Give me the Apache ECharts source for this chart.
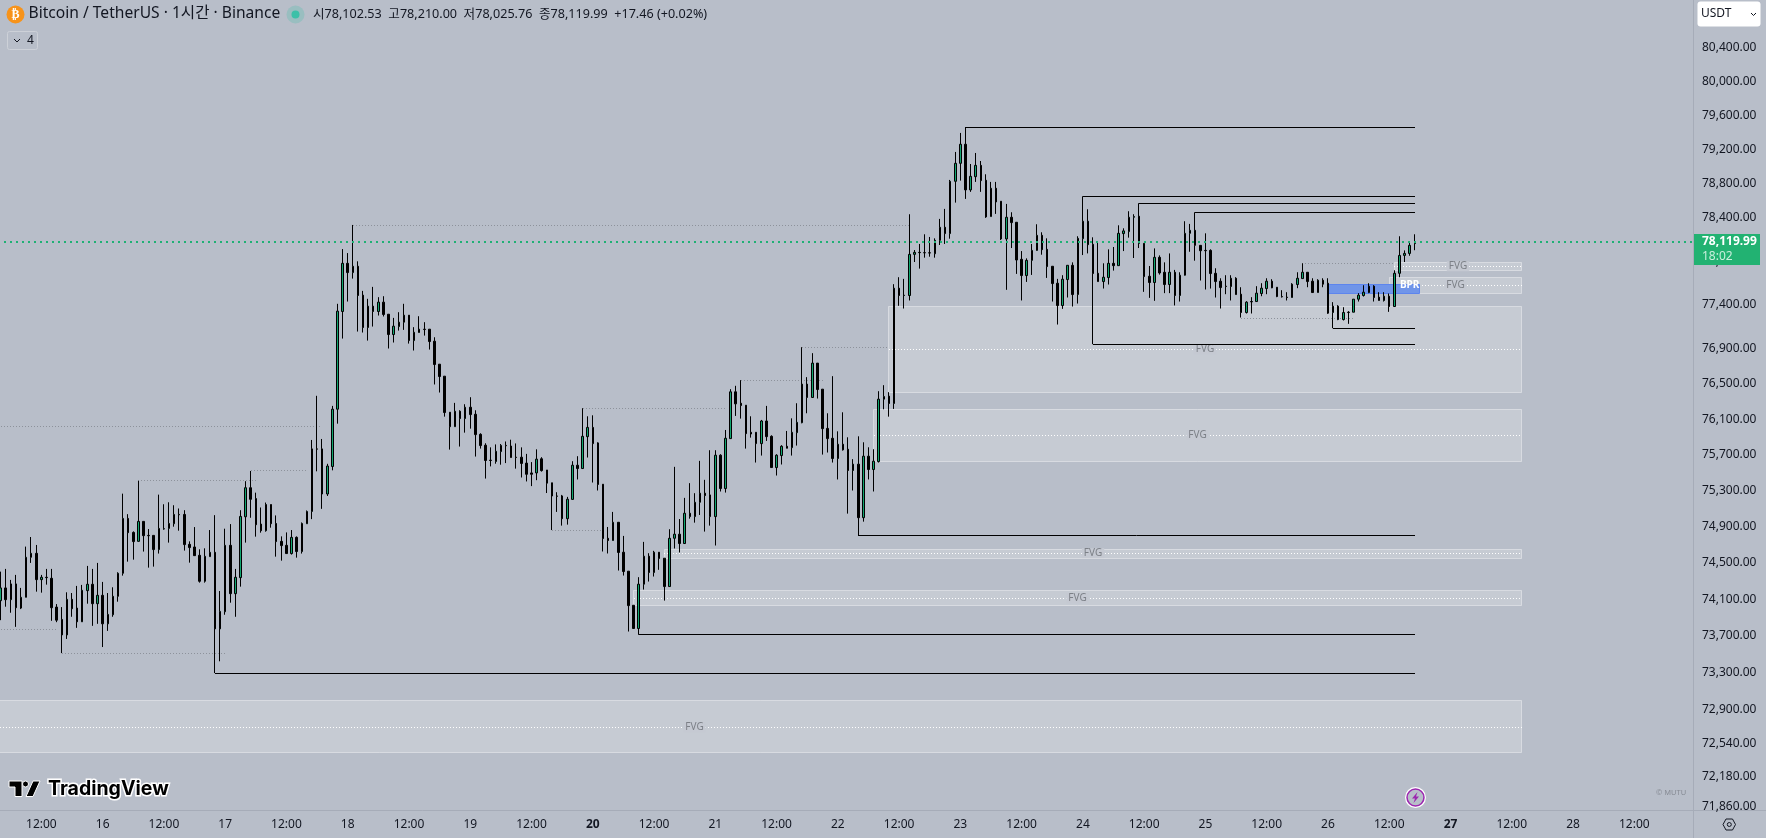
<!DOCTYPE html>
<html>
<head>
<meta charset="utf-8">
<title>BTCUSDT 1H</title>
<script src="https://cdn.jsdelivr.net/npm/echarts@6/dist/echarts.min.js"></script>
<style>
    html, body { margin: 0; padding: 0; background: #b8bec9; }
    #main { width: 1766px; height: 838px; }
</style>
</head>
<body>
<div id="main"></div>
<script>
// 1시간봉: 15일 04:00 부터 278개, [open, close, low, high]
const ohlc = [
[74085,74225,73872,74404],[74225,74096,74019,74434],[74096,74269,73953,74313],[74269,74008,73799,74368],[74004,74122,73993,74225],
[74122,74562,74122,74680],[74562,74606,74500,74786],[74606,74316,74184,74698],[74316,74342,74173,74368],[74342,74338,74261,74434],
[74331,74008,73865,74434],[74015,73872,73850,74048],[73880,73711,73513,74015],[73711,74100,73667,74177],[74100,73997,73909,74169],
[74004,73854,73788,74247],[73854,74199,73854,74258],[74195,74265,74052,74467],[74265,74052,73810,74434],[74052,74144,73832,74500],
[74144,73832,73579,74291],[73832,73935,73755,74169],[73931,74133,73909,74232],[74133,74386,74074,74397],[74386,74992,74360,75267],
[74992,74834,74514,75039],[74837,74735,74536,74848],[74738,74959,74735,75410],[74959,74801,74625,74959],[74804,74800,74448,74874],
[74804,74647,74459,74804],[74647,74881,74603,75256],[74875,74878,74867,75149],[74881,74936,74724,75171],[74933,75036,74900,75138],
[75036,75032,74856,75102],[75036,74702,74636,75083],[74705,74669,74503,74738],[74676,74580,74580,74896],[74584,74298,74283,74650],
[74298,74573,74283,74661],[74569,74617,74569,74863],[74617,73777,73296,75028],[73777,73968,73424,74191],[73964,74694,73931,74878],
[74694,74162,74063,74929],[74162,74342,73909,74434],[74338,75014,74239,75083],[75010,75333,74724,75406],[75333,75204,74999,75520],
[75212,74922,74790,75278],[74929,74856,74834,75113],[74856,75146,74845,75168],[75146,74933,74889,75146],[74936,74735,74569,75025],
[74738,74691,74525,74793],[74694,74603,74603,74837],[74603,74782,74592,74863],[74782,74625,74558,74793],[74625,74936,74603,74947],
[74933,75069,74933,75080],[75069,75767,74984,75867],[75767,75764,75516,76364],[75767,75263,75098,75878],[75263,75575,75241,75600],
[75570,76213,75527,76250],[76213,77326,76050,77410],[77322,77875,77013,78039],[77875,77768,77436,77993],[77768,77841,77699,78318],
[77841,77505,77093,77898],[77509,77139,77082,77558],[77139,77383,76990,77467],[77383,77322,77150,77604],[77322,77429,77276,77486],
[77429,77288,77265,77497],[77291,77059,76900,77291],[77059,77154,76968,77249],[77150,77200,77104,77314],[77200,77280,77112,77410],
[77280,76990,76956,77280],[76990,77085,76877,77143],[77082,77120,77082,77268],[77120,77116,77047,77200],[77120,76979,76888,77120],
[76983,76718,76492,77028],[76722,76582,76401,76722],[76586,76175,76129,76586],[76179,76016,75759,76179],[76016,76190,76016,76284],
[76190,76107,75793,76201],[76107,76235,75949,76269],[76235,76152,75994,76348],[76156,75927,75681,76201],[75930,75804,75770,75942],
[75808,75637,75435,75830],[75641,75637,75571,75784],[75626,75740,75601,75817],[75737,75806,75590,75821],[75806,75802,75608,75850],
[75799,75670,75670,75870],[75674,75670,75546,75828],[75674,75604,75447,75784],[75608,75483,75403,75711],[75498,75483,75351,75619],
[75498,75652,75417,75762],[75656,75524,75513,75674],[75531,75384,75274,75531],[75388,75241,74863,75388],[75241,75238,75064,75283],
[75242,74989,74912,75253],[74989,75205,74923,75231],[75203,75584,75201,75629],[75584,75547,75425,75685],[75547,75908,75547,76224],
[75904,76008,75670,76133],[76008,75826,75391,76144],[75834,75369,75302,75841],[75372,74769,74626,75372],[74772,74747,74604,74897],
[74747,74949,74747,75064],[74949,74615,74416,74949],[74618,74405,74361,74798],[74409,74031,73748,74409],[74035,73781,73781,74035],
[73781,74266,73712,74343],[74266,74574,74207,74732],[74574,74394,74295,74607],[74394,74618,74350,74633],[74618,74549,74424,74618],
[74552,74240,74086,74552],[74240,74772,74240,74872],[74772,74817,74659,75566],[74817,74714,74615,74985],[74714,75049,74710,75220],
[75049,75012,74989,75384],[75012,75171,74945,75272],[75171,75272,75030,75633],[75272,75246,74846,75421],[75253,75012,74912,75752],
[75012,75696,74692,75752],[75696,75324,75291,75707],[75324,75886,75279,75979],[75882,76409,75882,76439],[76409,76273,76137,76477],
[76280,76254,76107,76541],[76258,75938,75770,76258],[75953,75934,75893,76133],[75953,75826,75614,75953],[75826,76080,75692,76092],
[76080,75904,75856,76250],[75908,75558,75558,75919],[75558,75696,75469,75707],[75692,75796,75592,75808],[75796,75774,75774,75968],
[75781,75953,75692,76110],[75949,76065,75804,76280],[76061,76496,76054,76915],[76496,76345,76167,76575],[76345,76734,76345,76847],
[76734,76435,76333,76734],[76439,75994,75703,76439],[75997,75882,75726,76167],[75886,75659,75614,76586],[75659,75819,75425,75964],
[75819,75756,75748,76178],[75763,75525,75045,75897],[75525,75596,75302,75652],[75596,75000,74805,75908],[75000,75685,74956,75841],
[75685,75536,75425,75785],[75536,75629,75291,75763],[75625,76326,75614,76416],[76326,76356,76212,76484],[76360,76277,76129,76405],
[76277,77589,76216,77635],[77589,77505,77387,77715],[77509,77505,77356,77696],[77505,77978,77448,78442],[77978,78001,77890,78028],
[78001,77998,77814,78098],[77998,77996,77940,78210],[77996,77994,77951,78179],[77985,78140,77940,78163],[78140,78291,78086,78388],
[78291,78218,78098,78504],[78218,78825,78159,78841],[78825,79035,78577,79168],[79035,79258,78833,79391],[79258,78725,78620,79458],
[78725,78883,78702,79027],[78879,79011,78818,79156],[79011,78833,78702,79062],[78837,78411,78400,78907],[78415,78744,78415,78818],
[78744,78585,78446,78818],[78593,78156,78144,78593],[78156,78407,77570,78562],[78407,78345,78051,78465],[78349,77913,77753,78349],
[77921,77734,77448,78016],[77734,77909,77661,77932],[77909,78024,77741,78098],[78024,78198,78020,78326],[78198,78032,77974,78233],
[78036,77837,77707,78163],[77841,77642,77436,77841],[77646,77390,77173,77696],[77390,77692,77352,77738],[77688,77852,77482,77852],
[77852,77516,77379,77886],[77516,78163,77413,78187],[78159,78361,77970,78651],[78361,78090,77989,78500],[78094,77757,76949,78175],
[77760,77665,77665,78129],[77665,77715,77585,77875],[77711,77875,77631,78036],[77875,77848,77791,78063],[77848,78221,77848,78314],
[78218,78249,78016,78279],[78241,78407,78171,78477],[78407,78415,77936,78442],[78419,78105,78051,78570],[78105,77722,77547,78105],
[77726,77654,77478,77844],[77654,77944,77444,78047],[77944,77764,77745,77966],[77772,77631,77532,77886],[77631,77772,77532,77989],
[77772,77505,77391,77799],[77505,77738,77436,77772],[77738,78221,77734,78361],[78221,78256,78008,78330],[78256,78082,77905,78465],
[78082,78020,77677,78082],[78024,78020,77574,78221],[78024,77757,77585,78036],[77760,77665,77482,77818],[77669,77596,77356,77703],
[77612,77608,77520,77738],[77608,77703,77448,77738],[77703,77516,77516,77715],[77520,77310,77253,77600],[77310,77429,77299,77440],
[77436,77432,77299,77486],[77436,77532,77436,77612],[77528,77589,77497,77646],[77585,77669,77520,77703],[77669,77593,77589,77692],
[77600,77493,77486,77600],[77493,77490,77482,77566],[77486,77482,77448,77543],[77482,77635,77482,77646],[77631,77703,77589,77772],
[77699,77772,77699,77875],[77772,77665,77600,77772],[77669,77539,77539,77703],[77539,77680,77539,77692],[77680,77635,77600,77703],
[77646,77303,77295,77703],[77310,77383,77131,77429],[77383,77230,77223,77394],[77230,77310,77219,77371],[77310,77314,77181,77326],
[77314,77463,77314,77463],[77463,77509,77436,77532],[77505,77543,77493,77623],[77539,77612,77532,77646],[77612,77482,77436,77623],
[77486,77448,77448,77543],[77448,77497,77436,77543],[77497,77379,77318,77528],[77379,77760,77379,77795],[77760,77966,77715,78187],
[77966,77989,77890,78024],[77989,78082,77962,78117],[78102.53,78119.99,78025.76,78210]
]

const priceTicks = [80400, 80000, 79600, 79200, 78800, 78400, 77900, 77400, 76900, 76500, 76100, 75700, 75300, 74900, 74500, 74100, 73700, 73300, 72900, 72540, 72180, 71860]
const lastPrice = 78119.99

// FVG 구간: [시작봉, 끝봉, 상단, 하단, 중간]
const fvgZones = [
    [174, 298, 77383, 76406, 76892],
    [171, 298, 76205, 75629, 75920],
    [130, 298, 74652, 74553, 74608],
    [124, 298, 74200, 74035, 74112],
    [-26, 298, 72995, 72437, 72709],
    [273, 298, 77890, 77791, 77841],
    [272, 298, 77711, 77528, 77621]
]
const bprZone = [[260, 278, 77627, 77525, 275.5]]

// 스윙 고점/저점 라인: [시작봉, 끝봉, 가격]
const levelLines = [
    [189, 277, 79458], [212, 277, 78651], [223, 277, 78570], [234, 277, 78465], [261, 277, 77132],
    [214, 277, 76949], [168, 277, 74806], [125, 277, 73712], [42, 277, 73296]
]
// 점선 (이미 스윕된 레벨)
const sweepLines = [
    [0, 11, 73774], [12, 44, 73505], [27, 50, 75410], [49, 60, 75520], [69, 178, 78315], [0, 63, 76020],
    [114, 142, 76225], [145, 161, 76537], [157, 174, 76915], [108, 118, 74863], [255, 273, 77875], [243, 265, 77246]
]

const categories = []
for (let i = 0; i < 332; i++) {
    let t = i + 4
    let hour = t % 24
    categories.push((15 + Math.floor(t / 24)) + ' ' + hour + ':00')
}
const boldDays = ['20', '27']

const uiFont = '"Noto Sans", "Noto Sans CJK KR", sans-serif'
const textColor = '#131722'
const axisColor = '#a6acb8'

// 1px 선이 흐려지지 않게
function crisp(v) {
    return Math.round(v - 0.5) + 0.5
}

function renderZone(params, api) {
    let tl = api.coord([api.value(0), api.value(2)])
    let br = api.coord([api.value(1), api.value(3)])
    let midY = api.coord([api.value(0), api.value(4)])[1]
    let x1 = crisp(tl[0]), y1 = crisp(tl[1]), x2 = crisp(br[0]), y2 = crisp(br[1])
    return {
        type: 'group',
        children: [
            { type: 'rect', shape: { x: x1, y: y1, width: x2 - x1, height: y2 - y1 }, style: { fill: 'rgba(255,255,255,0.2)', stroke: 'rgba(255,255,255,0.4)', lineWidth: 1 } },
            // 점선 시작은 정수 픽셀에 맞춰야 점이 또렷함
            { type: 'line', shape: { x1: Math.round(tl[0]), y1: crisp(midY), x2: Math.round(br[0]), y2: crisp(midY) }, style: { stroke: '#fff', lineWidth: 1, lineDash: [1, 2] } },
            { type: 'text', x: (x1 + x2) / 2, y: midY, style: { text: 'FVG', fill: '#7c8087', font: '10px ' + uiFont, align: 'center', verticalAlign: 'middle', backgroundColor: '#c5c9d2', padding: [0, 2] } }
        ]
    }
}

function renderBpr(params, api) {
    let tl = api.coord([api.value(0), api.value(2)])
    let br = api.coord([api.value(1), api.value(3)])
    let labelPt = api.coord([api.value(4), api.value(2)])
    let x1 = crisp(tl[0]), y1 = crisp(tl[1]), x2 = crisp(br[0]), y2 = crisp(br[1])
    return {
        type: 'group',
        children: [
            { type: 'rect', shape: { x: x1, y: y1, width: x2 - x1, height: y2 - y1 }, style: { fill: '#7095e9', stroke: '#5d85ee', lineWidth: 1 } },
            { type: 'text', x: labelPt[0], y: labelPt[1], style: { text: 'BPR', fill: '#fff', font: 'bold 10px ' + uiFont, align: 'center', verticalAlign: 'middle' } }
        ]
    }
}

function makeLineRenderer(style) {
    return function (params, api) {
        let a = api.coord([api.value(0), api.value(2)])
        let b = api.coord([api.value(1), api.value(2)])
        let y = crisp(a[1])
        return { type: 'line', shape: { x1: Math.round(a[0]), y1: y, x2: Math.round(b[0]), y2: y }, style: style }
    }
}

const graphics = [
    // 통화 버튼
    { type: 'rect', shape: { x: 1697.5, y: 1.5, width: 63, height: 25, r: 3 }, style: { fill: '#fff' } },
    { type: 'text', x: 1701, y: 14, style: { text: 'USDT', fill: textColor, font: '12px ' + uiFont, verticalAlign: 'middle' } },
    { type: 'polyline', shape: { points: [[1751, 13], [1753.5, 15.5], [1756, 13]] }, style: { fill: 'none', stroke: textColor, lineWidth: 1 } },
    // 범례
    { type: 'circle', shape: { cx: 15.5, cy: 14.5, r: 9 }, style: { fill: '#f7931a' } },
    { type: 'text', x: 15.5, y: 14.5, style: { text: '₿', fill: '#fff', font: 'bold 12px "DejaVu Sans"', align: 'center', verticalAlign: 'middle' } },
    { type: 'text', x: 28.5, y: 14, style: { text: 'Bitcoin / TetherUS · 1시간 · Binance', fill: textColor, font: '15.6px ' + uiFont, verticalAlign: 'middle' } },
    { type: 'circle', shape: { cx: 295.5, cy: 14.5, r: 9 }, style: { fill: 'rgba(60,192,168,0.25)' } },
    { type: 'circle', shape: { cx: 295.5, cy: 14.5, r: 4 }, style: { fill: '#3cc0a8' } },
    { type: 'text', x: 313, y: 14.5, style: { text: '시78,102.53  고78,210.00  저78,025.76  종78,119.99  +17.46 (+0.02%)', fill: textColor, font: '12.6px ' + uiFont, verticalAlign: 'middle' } },
    { type: 'rect', shape: { x: 7.5, y: 31.5, width: 30, height: 18, r: 2 }, style: { fill: 'none', stroke: '#cdd1d8', lineWidth: 1 } },
    { type: 'polyline', shape: { points: [[14, 39], [17, 42], [20, 39]] }, style: { fill: 'none', stroke: textColor, lineWidth: 1 } },
    { type: 'text', x: 27, y: 40.5, style: { text: '4', fill: textColor, font: '12px ' + uiFont, verticalAlign: 'middle' } },
    // 로고
    { type: 'polygon', shape: { points: [[9, 781], [22, 781], [22, 796.5], [15, 796.5], [15, 787], [9, 787]] }, style: { fill: '#000', stroke: '#fff', lineWidth: 1 } },
    { type: 'circle', shape: { cx: 25.5, cy: 784, r: 3 }, style: { fill: '#000', stroke: '#fff', lineWidth: 1 } },
    { type: 'polygon', shape: { points: [[33, 781], [40, 781], [33, 796.5], [26, 796.5]] }, style: { fill: '#000', stroke: '#fff', lineWidth: 1 } },
    { type: 'text', x: 48, y: 789, style: { text: 'TradingView', fill: '#000', stroke: '#fff', lineWidth: 3, font: 'bold 19.5px Inter', verticalAlign: 'middle' } },
    { type: 'text', x: 1656, y: 793, style: { text: '© MUTU', fill: '#868b94', font: '7.5px ' + uiFont, verticalAlign: 'middle' } },
    // 이벤트 아이콘
    { type: 'circle', shape: { cx: 1415.5, cy: 797.5, r: 10.5 }, style: { fill: '#fff' } },
    { type: 'circle', shape: { cx: 1415.5, cy: 797.5, r: 8.5 }, style: { fill: '#b8bec9', stroke: '#9c27b0', lineWidth: 1.5 } },
    { type: 'polygon', shape: { points: [[1417.5, 792], [1412, 798.5], [1415, 798.5], [1413.5, 803], [1419, 796.5], [1416, 796.5]] }, style: { fill: '#9c27b0' } },
    // 축 모서리
    { type: 'rect', shape: { x: 1694, y: 810.5, width: 72, height: 28 }, style: { fill: '#b8bec9' } },
    { type: 'line', shape: { x1: 1693.5, y1: 810, x2: 1693.5, y2: 838 }, style: { stroke: axisColor, lineWidth: 1 } },
    { type: 'line', shape: { x1: 1693, y1: 810.5, x2: 1766, y2: 810.5 }, style: { stroke: axisColor, lineWidth: 1 } },
    { type: 'polygon', shape: { points: [[1723, 824.5], [1726, 819], [1732.5, 819], [1735.5, 824.5], [1732.5, 830], [1726, 830]] }, style: { fill: 'none', stroke: textColor, lineWidth: 1 } },
    { type: 'circle', shape: { cx: 1729.3, cy: 824.5, r: 2 }, style: { fill: 'none', stroke: textColor, lineWidth: 1 } }
]

const chart = echarts.init(document.getElementById('main'))
chart.setOption({
    animation: false,
    backgroundColor: '#b8bec9',
    textStyle: { fontFamily: uiFont },
    grid: { left: -2, right: 73, top: 0, bottom: 28, outerBoundsMode: 'none' },
    xAxis: {
        type: 'category',
        data: categories,
        boundaryGap: true,
        axisTick: { show: false },
        splitLine: { show: false },
        axisLine: { lineStyle: { color: axisColor } },
        axisLabel: {
            color: textColor,
            fontSize: 12,
            margin: 9,
            interval: function (index, value) {
                let h = value.split(' ')[1]
                return h === '12:00' || h === '0:00'
            },
            formatter: function (value) {
                let parts = value.split(' ')
                if (parts[1] === '12:00') return '12:00'
                if (boldDays.indexOf(parts[0]) >= 0) return '{bold|' + parts[0] + '}'
                return parts[0]
            },
            rich: { bold: { fontWeight: 'bold', fontSize: 12, color: textColor } }
        }
    },
    yAxis: {
        type: 'log',
        position: 'right',
        min: 71827,
        max: 80967,
        splitLine: { show: false },
        minorSplitLine: { show: false },
        axisTick: { show: false },
        axisLine: { show: true, lineStyle: { color: axisColor } },
        axisLabel: {
            color: textColor,
            fontSize: 12,
            margin: 9,
            customValues: priceTicks,
            formatter: function (v) {
                return Number(v).toLocaleString('en-US', { minimumFractionDigits: 2, maximumFractionDigits: 2 })
            }
        }
    },
    series: [
        { name: 'FVG', type: 'custom', z: 1, silent: true, clip: true, data: fvgZones, encode: { x: [0, 1], y: [2, 3, 4] }, renderItem: renderZone },
        { name: 'BPR', type: 'custom', z: 1, silent: true, clip: true, data: bprZone, encode: { x: [0, 1], y: [2, 3] }, renderItem: renderBpr },
        { name: 'sweep', type: 'custom', z: 1, silent: true, clip: true, data: sweepLines, encode: { x: [0, 1], y: 2 }, renderItem: makeLineRenderer({ stroke: '#8d929b', lineWidth: 1, lineDash: [1, 2] }) },
        {
            name: 'BTCUSDT',
            type: 'candlestick',
            z: 2,
            barWidth: 2,
            data: ohlc,
            itemStyle: { color: '#10a66f', color0: '#000', borderColor: '#000', borderColor0: '#000', borderWidth: 1 },
            markLine: {
                silent: true,
                symbol: 'none',
                animation: false,
                z: 10,
                data: [{ yAxis: lastPrice }],
                lineStyle: { color: '#1fb074', type: [2, 4], width: 2 },
                label: {
                    show: true,
                    position: 'end',
                    distance: 1,
                    offset: [0, 7.5],
                    width: 66,
                    height: 31,
                    backgroundColor: '#22b272',
                    align: 'left',
                    verticalAlign: 'middle',
                    formatter: '{a|78,119.99}\n{b|18:02}',
                    rich: {
                        a: { color: '#fff', fontWeight: 'bold', fontSize: 12, padding: [1, 0, 0, 8], lineHeight: 15 },
                        b: { color: '#c9efdc', fontSize: 12, padding: [0, 0, 0, 8], lineHeight: 15 }
                    }
                }
            }
        },
        { name: 'levels', type: 'custom', z: 3, silent: true, clip: true, data: levelLines, encode: { x: [0, 1], y: 2 }, renderItem: makeLineRenderer({ stroke: '#000', lineWidth: 1 }) }
    ],
    graphic: graphics
})
</script>
</body>
</html>
